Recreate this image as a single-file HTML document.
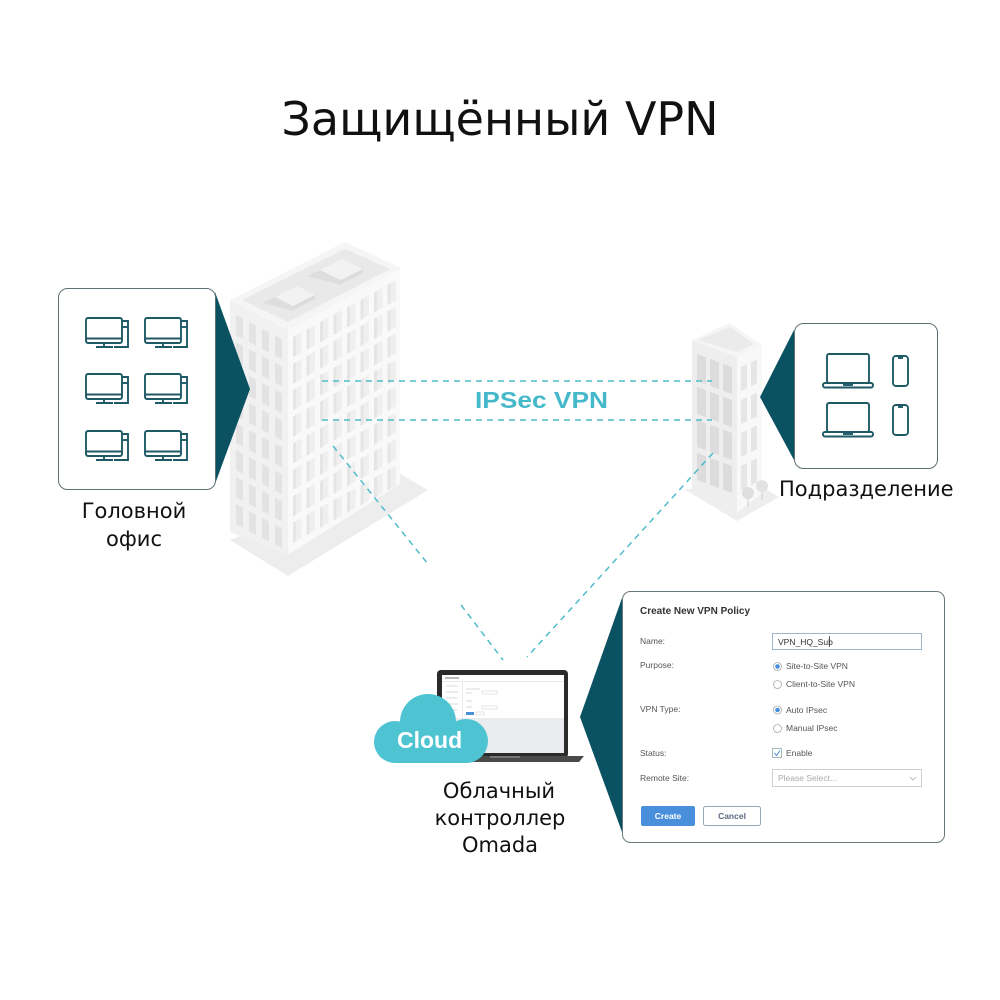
<!DOCTYPE html>
<html>
<head>
<meta charset="utf-8">
<style>
  html,body{margin:0;padding:0;background:#fff;}
  svg{display:block;}
</style>
</head>
<body>
<svg width="1000" height="1000" viewBox="0 0 1000 1000" xmlns="http://www.w3.org/2000/svg">
  <rect width="1000" height="1000" fill="#ffffff"/>

  <!-- Title -->
  <text x="500" y="135" text-anchor="middle" font-family="'DejaVu Sans', 'Liberation Sans', sans-serif" font-size="46" fill="#111">Защищённый VPN</text>

  <!-- ===== Big HQ building ===== -->
  <polygon points="230,540 288,576 428,490 400,474" fill="#ededed"/>
  <!-- left face -->
  <polygon points="230,300 288,330 288,555 230,532" fill="#f1f1f1"/>
  <g transform="matrix(1,0.526,0,1,230,300)">
    <g fill="#e3e3e3">
      <rect x="6" y="12" width="7" height="20"/><rect x="19" y="12" width="7" height="20"/><rect x="32" y="12" width="7" height="20"/><rect x="45" y="12" width="7" height="20"/>
      <rect x="6" y="39" width="7" height="20"/><rect x="19" y="39" width="7" height="20"/><rect x="32" y="39" width="7" height="20"/><rect x="45" y="39" width="7" height="20"/>
      <rect x="6" y="66" width="7" height="20"/><rect x="19" y="66" width="7" height="20"/><rect x="32" y="66" width="7" height="20"/><rect x="45" y="66" width="7" height="20"/>
      <rect x="6" y="93" width="7" height="20"/><rect x="19" y="93" width="7" height="20"/><rect x="32" y="93" width="7" height="20"/><rect x="45" y="93" width="7" height="20"/>
      <rect x="6" y="120" width="7" height="20"/><rect x="19" y="120" width="7" height="20"/><rect x="32" y="120" width="7" height="20"/><rect x="45" y="120" width="7" height="20"/>
      <rect x="6" y="147" width="7" height="20"/><rect x="19" y="147" width="7" height="20"/><rect x="32" y="147" width="7" height="20"/><rect x="45" y="147" width="7" height="20"/>
      <rect x="6" y="174" width="7" height="20"/><rect x="19" y="174" width="7" height="20"/><rect x="32" y="174" width="7" height="20"/><rect x="45" y="174" width="7" height="20"/>
      <rect x="6" y="201" width="7" height="20"/><rect x="19" y="201" width="7" height="20"/><rect x="32" y="201" width="7" height="20"/><rect x="45" y="201" width="7" height="20"/>
    </g>
  </g>
  <!-- right face -->
  <polygon points="288,330 400,268 400,484 288,555" fill="#f9f9f9"/>
  <g transform="matrix(1,-0.5536,0,1,288,330)">
    <defs>
      <g id="wrow">
        <rect x="5" width="8.5" height="20" fill="#efefef"/><rect x="5" width="3" height="20" fill="#e5e5e5"/>
        <rect x="18.5" width="8.5" height="20" fill="#efefef"/><rect x="18.5" width="3" height="20" fill="#e5e5e5"/>
        <rect x="32" width="8.5" height="20" fill="#efefef"/><rect x="32" width="3" height="20" fill="#e5e5e5"/>
        <rect x="45.5" width="8.5" height="20" fill="#efefef"/><rect x="45.5" width="3" height="20" fill="#e5e5e5"/>
        <rect x="59" width="8.5" height="20" fill="#efefef"/><rect x="59" width="3" height="20" fill="#e5e5e5"/>
        <rect x="72.5" width="8.5" height="20" fill="#efefef"/><rect x="72.5" width="3" height="20" fill="#e5e5e5"/>
        <rect x="86" width="8.5" height="20" fill="#efefef"/><rect x="86" width="3" height="20" fill="#e5e5e5"/>
        <rect x="99.5" width="8.5" height="20" fill="#efefef"/><rect x="99.5" width="3" height="20" fill="#e5e5e5"/>
      </g>
    </defs>
    <use href="#wrow" y="10"/>
    <use href="#wrow" y="36.5"/>
    <use href="#wrow" y="63"/>
    <use href="#wrow" y="89.5"/>
    <use href="#wrow" y="116"/>
    <use href="#wrow" y="142.5"/>
    <use href="#wrow" y="169"/>
    <use href="#wrow" y="195.5"/>
  </g>
  <!-- roof -->
  <polygon points="230,300 345,242 401,268 288,330" fill="#f5f5f5"/>
  <polygon points="242,300 345,249 390,269 288,322" fill="#e9e9e9"/>
  <!-- roof boxes -->
  <polygon points="262,303 275,297 293,306 293,311" fill="#dedede"/>
  <polygon points="275,297 297,286 315,295 293,306" fill="#f2f2f2"/>
  <polygon points="293,306 315,295 315,299 293,310" fill="#dcdcdc"/>
  <polygon points="307,276 320,270 341,280 341,285" fill="#dedede"/>
  <polygon points="320,270 342,259 363,269 341,280" fill="#f2f2f2"/>
  <polygon points="341,280 363,269 363,273 341,284" fill="#dcdcdc"/>

  <!-- ===== Small branch building ===== -->
  <polygon points="684,489 737,521 779,497 762,487" fill="#eeeeee"/>
  <polygon points="692,340 737,357 737,513 692,493" fill="#eeeeee"/>
  <g transform="matrix(1,0.378,0,1,692,340)" fill="#dcdcdc">
    <rect x="5" y="12" width="9" height="27"/><rect x="18" y="12" width="9" height="27"/><rect x="31" y="12" width="9" height="27"/>
    <rect x="5" y="45" width="9" height="27"/><rect x="18" y="45" width="9" height="27"/><rect x="31" y="45" width="9" height="27"/>
    <rect x="5" y="78" width="9" height="27"/><rect x="18" y="78" width="9" height="27"/><rect x="31" y="78" width="9" height="27"/>
    <rect x="5" y="111" width="9" height="27"/><rect x="18" y="111" width="9" height="27"/><rect x="31" y="111" width="9" height="27"/>
  </g>
  <polygon points="737,357 762,345 762,493 737,513" fill="#f8f8f8"/>
  <g transform="matrix(1,-0.48,0,1,737,357)" fill="#e6e6e6">
    <rect x="4" y="12" width="6" height="24"/><rect x="14" y="12" width="6" height="24"/>
    <rect x="4" y="45" width="6" height="24"/><rect x="14" y="45" width="6" height="24"/>
    <rect x="4" y="78" width="6" height="24"/><rect x="14" y="78" width="6" height="24"/>
    <rect x="4" y="111" width="6" height="24"/><rect x="14" y="111" width="6" height="24"/>
  </g>
  <polygon points="692,340 730,323 762,345 737,357" fill="#f5f5f5"/>
  <polygon points="698,340 730,327 754,344 737,352" fill="#ebebeb"/>
  <!-- trees -->
  <line x1="748" y1="495" x2="748" y2="507" stroke="#d4d4d4" stroke-width="1.2"/>
  <line x1="762" y1="489" x2="762" y2="500" stroke="#d4d4d4" stroke-width="1.2"/>
  <circle cx="748" cy="493" r="6" fill="#dedede"/>
  <circle cx="762" cy="486" r="6" fill="#e2e2e2"/>

  <!-- ===== Dashed connectors ===== -->
  <g stroke="#4fbcca" stroke-width="1.5" stroke-dasharray="6 5" fill="none">
    <line x1="322" y1="381" x2="712" y2="381"/>
    <line x1="322" y1="420" x2="712" y2="420"/>
    <line x1="333" y1="446" x2="428" y2="564"/>
    <line x1="461" y1="605" x2="503" y2="660"/>
    <line x1="713" y1="453" x2="527" y2="657"/>
  </g>
  <rect x="470" y="386" width="145" height="28" fill="#ffffff"/>
  <text x="475" y="408" textLength="133" lengthAdjust="spacingAndGlyphs" font-family="'Liberation Sans', sans-serif" font-weight="bold" font-size="23" fill="#45b8c9">IPSec VPN</text>

  <!-- ===== HQ callout ===== -->
  <polygon points="215,292 250,389 215,484" fill="#0a5161"/>
  <rect x="58.5" y="288.5" width="157" height="201" rx="9" fill="#ffffff" stroke="#5f6f74" stroke-width="1"/>
  <defs>
    <g id="pc" fill="none" stroke="#1e5a66" stroke-width="1.9">
      <rect x="0" y="0" width="36" height="25" rx="2"/>
      <line x1="0" y1="20.5" x2="36" y2="20.5"/>
      <line x1="18" y1="25" x2="18" y2="29"/>
      <line x1="10" y1="29" x2="27" y2="29"/>
      <polyline points="36,3 42,3 42,29 28,29"/>
      <line x1="36" y1="9" x2="42" y2="9"/>
    </g>
  </defs>
  <use href="#pc" x="86" y="318"/>
  <use href="#pc" x="145" y="318"/>
  <use href="#pc" x="86" y="374"/>
  <use href="#pc" x="145" y="374"/>
  <use href="#pc" x="86" y="431"/>
  <use href="#pc" x="145" y="431"/>
  <text x="134" y="518" text-anchor="middle" font-family="'DejaVu Sans', 'Liberation Sans', sans-serif" font-size="21" fill="#111">Головной</text>
  <text x="134" y="546" text-anchor="middle" font-family="'DejaVu Sans', 'Liberation Sans', sans-serif" font-size="21" fill="#111">офис</text>

  <!-- ===== Branch callout ===== -->
  <polygon points="794,330 760,397 794,460" fill="#0a5161"/>
  <rect x="794.5" y="323.5" width="143" height="145" rx="9" fill="#ffffff" stroke="#5f6f74" stroke-width="1"/>
  <defs>
    <g id="lap" fill="none" stroke="#1e5a66" stroke-width="1.9">
      <rect x="4" y="0" width="42" height="29" rx="2"/>
      <rect x="0" y="29" width="50" height="4.5" rx="2"/>
      <line x1="20" y1="31" x2="30" y2="31"/>
    </g>
    <g id="phone" fill="none" stroke="#1e5a66" stroke-width="1.9">
      <rect x="0" y="0" width="15" height="30" rx="3"/>
      <line x1="5" y1="2" x2="10" y2="2"/>
    </g>
  </defs>
  <use href="#lap" x="823" y="354"/>
  <use href="#lap" x="823" y="403"/>
  <use href="#phone" x="893" y="356"/>
  <use href="#phone" x="893" y="405"/>
  <text x="779" y="496" font-family="'DejaVu Sans', 'Liberation Sans', sans-serif" font-size="21" fill="#111">Подразделение</text>

  <!-- ===== Laptop + Cloud ===== -->
  <rect x="437" y="670" width="131" height="88" rx="4" fill="#2b2b2b"/>
  <rect x="442" y="675" width="122" height="78" fill="#ffffff"/>
  <rect x="442" y="718" width="122" height="35" fill="#eaecef"/>
  <line x1="442" y1="681.5" x2="564" y2="681.5" stroke="#e2e2e2" stroke-width="0.8"/>
  <line x1="462.5" y1="682" x2="462.5" y2="718" stroke="#e6e6e6" stroke-width="0.8"/>
  <rect x="445" y="677" width="14" height="2" fill="#bbb"/>
  <g stroke="#cfcfcf" stroke-width="0.8">
    <line x1="446" y1="686" x2="458" y2="686"/>
    <line x1="446" y1="692" x2="458" y2="692"/>
    <line x1="446" y1="698" x2="458" y2="698"/>
    <line x1="446" y1="704" x2="458" y2="704"/>
    <line x1="446" y1="710" x2="458" y2="710"/>
    <line x1="466" y1="689" x2="480" y2="689"/>
    <line x1="466" y1="693" x2="472" y2="693"/>
    <line x1="466" y1="701" x2="472" y2="701"/>
    <line x1="466" y1="707" x2="472" y2="707"/>
  </g>
  <g fill="none" stroke="#d6d6d6" stroke-width="0.6">
    <rect x="482" y="691" width="15" height="3"/>
    <rect x="482" y="706" width="15" height="3"/>
  </g>
  <rect x="466" y="712" width="8" height="3" fill="#4a8fdc"/>
  <rect x="476" y="712" width="8" height="3" fill="none" stroke="#ccc" stroke-width="0.5"/>
  <polygon points="428,756 584,756 579,762 433,762" fill="#4a4a4a"/>
  <rect x="490" y="756" width="30" height="2" fill="#777"/>

  <!-- cloud -->
  <g fill="#4ec3d2">
    <circle cx="428" cy="722" r="28"/>
    <circle cx="395" cy="742" r="21"/>
    <circle cx="466" cy="741" r="22"/>
    <rect x="395" y="730" width="71" height="33"/>
  </g>
  <text x="397" y="748" font-family="'Liberation Sans', sans-serif" font-weight="bold" font-size="23" fill="#ffffff">Cloud</text>

  <g font-family="'DejaVu Sans', 'Liberation Sans', sans-serif" font-size="21" fill="#111" text-anchor="middle">
    <text x="499" y="798">Облачный</text>
    <text x="500" y="825">контроллер</text>
    <text x="500" y="852">Omada</text>
  </g>

  <!-- ===== VPN Policy panel ===== -->
  <polygon points="622,598 580,717 622,832" fill="#0a5161"/>
  <rect x="622.5" y="591.5" width="322" height="251" rx="8" fill="#ffffff" stroke="#68777c" stroke-width="1"/>
  <g font-family="'Liberation Sans', sans-serif">
    <text x="640" y="614" font-size="10" font-weight="bold" fill="#333">Create New VPN Policy</text>
    <g font-size="8.5" fill="#555">
      <text x="640" y="644">Name:</text>
      <text x="640" y="668">Purpose:</text>
      <text x="640" y="712">VPN Type:</text>
      <text x="640" y="756">Status:</text>
      <text x="640" y="781">Remote Site:</text>
    </g>
    <rect x="772.5" y="633.5" width="149" height="16" fill="#fff" stroke="#9fb6cf" stroke-width="1"/>
    <text x="778" y="645" font-size="8.5" fill="#333">VPN_HQ_Sub</text>
    <line x1="829.5" y1="636" x2="829.5" y2="647" stroke="#333" stroke-width="0.8"/>

    <circle cx="777.5" cy="666.5" r="4" fill="#fff" stroke="#aaa" stroke-width="0.8"/>
    <circle cx="777.5" cy="666.5" r="2.3" fill="#4a8fdc"/>
    <circle cx="777.5" cy="684.5" r="4" fill="#fff" stroke="#aaa" stroke-width="0.8"/>
    <circle cx="777.5" cy="710" r="4" fill="#fff" stroke="#aaa" stroke-width="0.8"/>
    <circle cx="777.5" cy="710" r="2.3" fill="#4a8fdc"/>
    <circle cx="777.5" cy="728.5" r="4" fill="#fff" stroke="#aaa" stroke-width="0.8"/>
    <g font-size="8.5" fill="#555">
      <text x="786" y="669">Site-to-Site VPN</text>
      <text x="786" y="687">Client-to-Site VPN</text>
      <text x="786" y="713">Auto IPsec</text>
      <text x="786" y="731">Manual IPsec</text>
      <text x="786" y="756">Enable</text>
    </g>
    <rect x="772.5" y="748.5" width="9" height="9" fill="#fff" stroke="#8aa" stroke-width="0.8"/>
    <polyline points="774.5,753 776.5,755.5 780,750.5" fill="none" stroke="#4a8fdc" stroke-width="1"/>

    <rect x="772.5" y="769.5" width="149" height="17" fill="#fff" stroke="#cfcfcf" stroke-width="1"/>
    <text x="778" y="781" font-size="8.5" fill="#aaa">Please Select...</text>
    <polyline points="910,777 913,780 916,777" fill="none" stroke="#aaa" stroke-width="0.8"/>

    <rect x="641" y="806" width="54" height="20" rx="2" fill="#4a8fdc"/>
    <text x="668" y="819" font-size="8.5" font-weight="bold" fill="#fff" text-anchor="middle">Create</text>
    <rect x="703.5" y="806.5" width="57" height="19" rx="2" fill="#fff" stroke="#9aa6b8" stroke-width="1"/>
    <text x="732" y="819" font-size="8.5" font-weight="bold" fill="#5a6a80" text-anchor="middle">Cancel</text>
  </g>
</svg>
</body>
</html>
